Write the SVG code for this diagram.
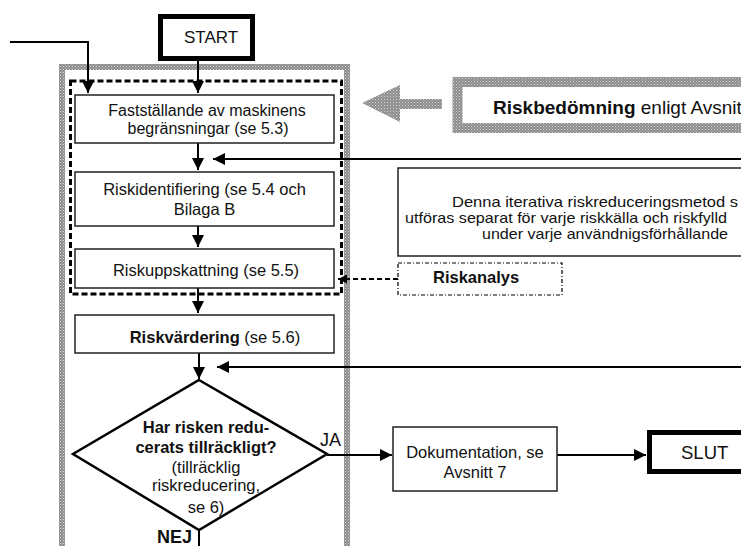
<svg xmlns="http://www.w3.org/2000/svg" width="741" height="546" viewBox="0 0 741 546">
<defs>
<style>
.t{font-family:"Liberation Sans",Arial,sans-serif;font-size:16.5px;fill:#111;}
.b{font-weight:bold;}
.box{fill:#fff;stroke:#222;stroke-width:1.5;}
.thick{fill:#fff;stroke:#000;stroke-width:5;}
.ln{fill:none;stroke:#000;stroke-width:2;}
.gray{fill:none;stroke:url(#hatch);}
</style>
<pattern id="hatch" width="3" height="3" patternUnits="userSpaceOnUse">
<rect width="3" height="3" fill="#8c8c8c"/>
<rect x="0" y="0" width="1" height="1" fill="#d8d8d8"/>
<rect x="1.5" y="1.5" width="1" height="1" fill="#c8c8c8"/>
</pattern>
<marker id="ah" viewBox="0 0 10 10" refX="10" refY="5" markerWidth="13" markerHeight="12" markerUnits="userSpaceOnUse" orient="auto">
<path d="M0,0 L10,5 L0,10 z" fill="#000"/>
</marker>
<marker id="ahs" viewBox="0 0 10 10" refX="10" refY="5" markerWidth="9" markerHeight="9" markerUnits="userSpaceOnUse" orient="auto">
<path d="M0,0 L10,5 L0,10 z" fill="#000"/>
</marker>
</defs>
<rect width="741" height="546" fill="#fff"/>

<g id="frames">
<rect x="62" y="67" width="285" height="520" class="gray" stroke-width="6"/>
<rect x="70.5" y="81" width="271" height="213" fill="none" stroke="#000" stroke-width="3" stroke-dasharray="6 3"/>
</g>

<g id="connectors">
<path class="ln" d="M10,42 H88 V93" marker-end="url(#ah)"/>
<path class="ln" d="M198,61 V93" marker-end="url(#ah)"/>
<path class="ln" d="M198,143 V170" marker-end="url(#ah)"/>
<path class="ln" d="M741,159 H213" marker-end="url(#ah)"/>
<path class="ln" d="M198,226 V247" marker-end="url(#ah)"/>
<path class="ln" d="M198,288 V313" marker-end="url(#ah)"/>
<path class="ln" d="M199,353 V379" marker-end="url(#ah)"/>
<path class="ln" d="M741,367 H217" marker-end="url(#ah)"/>
<path d="M398,279 H338" fill="none" stroke="#000" stroke-width="2" stroke-dasharray="5 3" marker-end="url(#ahs)"/>
<path class="ln" d="M327,455 H392" marker-end="url(#ah)"/>
<path class="ln" d="M557,455 H646" marker-end="url(#ah)"/>
<path class="ln" d="M199,530 V546"/>
<polygon points="362,103 400,85 400,99 442,99 442,109 400,109 400,122" fill="url(#hatch)"/>
</g>

<g id="start">
<rect x="160.5" y="16.5" width="92" height="42" class="thick"/>
<text class="t" x="211" y="43" text-anchor="middle" style="font-size:17px">START</text>
</g>

<g id="n1">
<rect x="75" y="95" width="259" height="48" class="box"/>
<text class="t" x="207" y="116" text-anchor="middle" style="font-size:16px">Fastställande av maskinens</text>
<text class="t" x="208" y="134" text-anchor="middle" style="font-size:16px">begränsningar (se 5.3)</text>
</g>

<g id="n2">
<rect x="75" y="172" width="259" height="54" class="box"/>
<text class="t" x="204.5" y="195" text-anchor="middle">Riskidentifiering (se 5.4 och</text>
<text class="t" x="204.5" y="215" text-anchor="middle">Bilaga B</text>
</g>

<g id="n3">
<rect x="75" y="249" width="259" height="39" class="box"/>
<text class="t" x="206" y="276" text-anchor="middle">Riskuppskattning (se 5.5)</text>
</g>

<g id="n4">
<rect x="75" y="315" width="259" height="38" class="box"/>
<text class="t" x="215" y="343" text-anchor="middle"><tspan class="b">Riskvärdering</tspan> (se 5.6)</text>
</g>

<g id="decision">
<polygon points="199,380 327,454 199,530 73,454" fill="#fff" stroke="#000" stroke-width="2.5"/>
<text class="t b" x="206" y="433" text-anchor="middle">Har risken redu-</text>
<text class="t b" x="206" y="453" text-anchor="middle">cerats tillräckligt?</text>
<text class="t" x="206" y="473" text-anchor="middle">(tillräcklig</text>
<text class="t" x="206" y="491" text-anchor="middle">riskreducering,</text>
<text class="t" x="206" y="513" text-anchor="middle">se 6)</text>
<text class="t" x="320" y="446" style="font-size:18px">JA</text>
<text class="t b" x="157" y="543" style="font-size:18px">NEJ</text>
</g>

<g id="riskbedomning">
<rect x="457.5" y="82" width="320" height="46" fill="#fff" class="gray" stroke-width="10"/>
<text class="t" x="493" y="114" style="font-size:19px"><tspan class="b">Riskbedömning</tspan> enligt Avsnit</text>
</g>

<g id="note">
<rect x="398" y="168" width="400" height="88" class="box"/>
<text class="t" x="452" y="207" style="font-size:14.5px" textLength="286" lengthAdjust="spacingAndGlyphs">Denna iterativa riskreduceringsmetod s</text>
<text class="t" x="405" y="223" style="font-size:14.5px" textLength="322" lengthAdjust="spacingAndGlyphs">utföras separat för varje riskkälla och riskfylld</text>
<text class="t" x="482" y="239" style="font-size:14.5px" textLength="246" lengthAdjust="spacingAndGlyphs">under varje användnigsförhållande</text>
</g>

<g id="riskanalys">
<rect x="398" y="263" width="164" height="32" fill="#fff" stroke="#000" stroke-width="1.2" stroke-dasharray="4 2 1 2"/>
<text class="t b" x="433" y="283">Riskanalys</text>
</g>

<g id="dok">
<rect x="393" y="427" width="164" height="64" class="box"/>
<text class="t" x="475" y="458" text-anchor="middle">Dokumentation, se</text>
<text class="t" x="475" y="478" text-anchor="middle">Avsnitt 7</text>
</g>

<g id="slut">
<rect x="649.5" y="432.5" width="120" height="39" class="thick"/>
<text class="t" x="681" y="459" style="font-size:18.5px">SLUT</text>
</g>
</svg>
